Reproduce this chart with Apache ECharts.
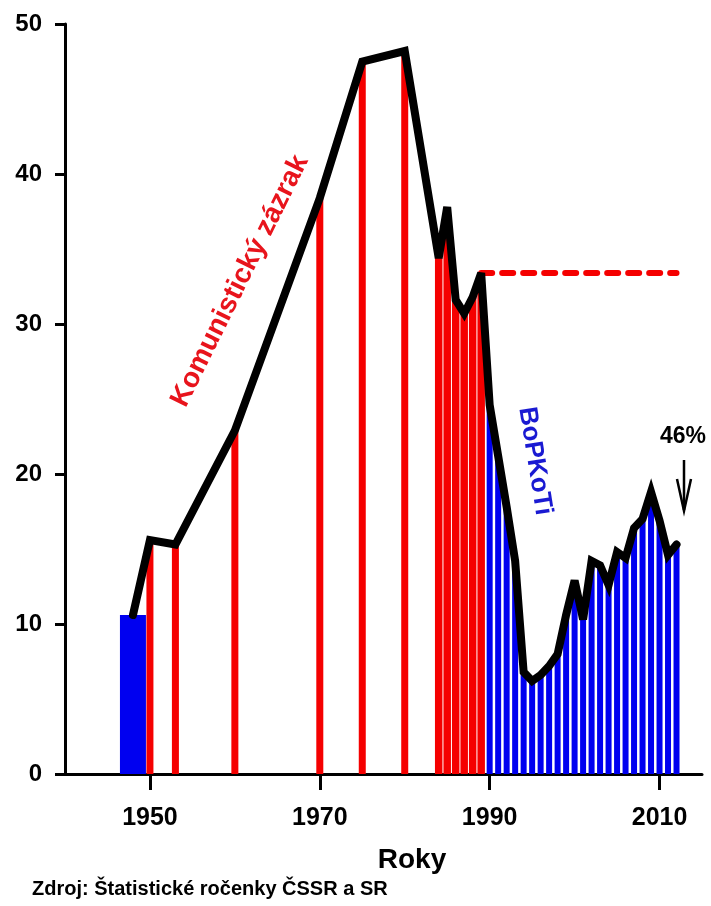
<!DOCTYPE html>
<html>
<head>
<meta charset="utf-8">
<script src="https://cdn.jsdelivr.net/npm/echarts@6/dist/echarts.min.js"></script>
<style>
html,body{margin:0;padding:0;background:#fff;}
#chart{width:711px;height:906px;}
</style>
</head>
<body>
<div id="chart"></div>
<script>
// Data
const years = [1948, 1950, 1953, 1960, 1970, 1975, 1980,
  1984, 1985, 1986, 1987, 1988, 1989,
  1990, 1991, 1992, 1993, 1994, 1995, 1996, 1997, 1998, 1999,
  2000, 2001, 2002, 2003, 2004, 2005, 2006, 2007, 2008, 2009, 2010, 2011, 2012];
const values = [10.6, 15.6, 15.3, 22.9, 38.4, 47.5, 48.2,
  34.4, 37.8, 31.6, 30.7, 31.8, 33.4,
  24.6, 21.2, 17.8, 14.2, 6.8, 6.2, 6.6, 7.2, 8.0, 10.6,
  12.9, 10.3, 14.2, 13.9, 12.6, 14.8, 14.4, 16.4, 17.0, 18.8, 16.9, 14.6, 15.3];
const blueStartYears = [1948];
const redSingleYears = [1950, 1953, 1960, 1970, 1975, 1980];
const redDenseYears = [1984, 1985, 1986, 1987, 1988, 1989];
const blueYears = [1990, 1991, 1992, 1993, 1994, 1995, 1996, 1997, 1998, 1999, 2000, 2001,
  2002, 2003, 2004, 2005, 2006, 2007, 2008, 2009, 2010, 2011, 2012];
const dashYears = [1989, 2012];
const dashValue = 33.4;
const xTickValues = [1950, 1970, 1990, 2010];
const yTickValues = [0, 10, 20, 30, 40, 50];

const pick = ys => ys.map(y => [y, values[years.indexOf(y)]]);
const FONT = 'Liberation Sans';
const RED = '#f50000';
const BLUE = '#0000f0';

const hiddenX = () => ({type: 'value', min: 1940, max: 2015, show: false});

const chart = echarts.init(document.getElementById('chart'), null, {renderer: 'canvas'});
chart.setOption({
  animation: false,
  backgroundColor: '#fff',
  grid: {left: 65, right: 9, top: 24, bottom: 132, containLabel: false},
  xAxis: [
    {
      type: 'value', min: 1940, max: 2015,
      axisLine: {show: true, lineStyle: {color: '#000', width: 3}},
      axisTick: {show: true, customValues: xTickValues, length: 16, lineStyle: {color: '#000', width: 3}},
      axisLabel: {customValues: xTickValues, formatter: v => String(v), margin: 32, color: '#000',
        fontFamily: FONT, fontWeight: 'bold', fontSize: 25},
      splitLine: {show: false}
    },
    hiddenX(), hiddenX(), hiddenX(), hiddenX()
  ],
  yAxis: {
    type: 'value', min: 0, max: 50, interval: 10,
    axisLine: {show: true, lineStyle: {color: '#000', width: 3}},
    axisTick: {show: true, length: 10, lineStyle: {color: '#000', width: 3}},
    axisLabel: {customValues: yTickValues, formatter: v => String(v), margin: 23, color: '#000',
      fontFamily: FONT, fontWeight: 'bold', fontSize: 24},
    splitLine: {show: false}
  },
  series: [
    {type: 'bar', xAxisIndex: 1, data: pick(blueStartYears), barWidth: 26, itemStyle: {color: BLUE}, z: 2},
    {type: 'bar', xAxisIndex: 2, data: pick(redSingleYears), barWidth: 7, itemStyle: {color: RED}, z: 2},
    {type: 'bar', xAxisIndex: 3, data: pick(redDenseYears), barWidth: 7.5, itemStyle: {color: RED}, z: 2},
    {type: 'bar', xAxisIndex: 4, data: pick(blueYears), barWidth: 6, itemStyle: {color: BLUE}, z: 2},
    {type: 'line', xAxisIndex: 0, data: dashYears.map(y => [y, dashValue]), symbol: 'none',
      lineStyle: {color: RED, width: 6, type: [11, 10], cap: 'round'}, z: 3},
    {type: 'line', xAxisIndex: 0, data: years.map((y, i) => [y, values[i]]), symbol: 'none',
      lineStyle: {color: '#000', width: 8, cap: 'round', join: 'miter', miterLimit: 4}, z: 4}
  ],
  graphic: [
    {type: 'text', x: 240, y: 281, rotation: 63.7 * Math.PI / 180,
      style: {text: 'Komunistický zázrak', fill: '#e8141c', font: 'bold 28px ' + FONT, align: 'center', verticalAlign: 'middle'}, z: 10},
    {type: 'text', x: 535, y: 461, rotation: -81 * Math.PI / 180,
      style: {text: 'BoPKoTi', fill: '#1a1ad2', font: 'bold 26px ' + FONT, align: 'center', verticalAlign: 'middle'}, z: 10},
    {type: 'text', x: 683, y: 437,
      style: {text: '46%', fill: '#000', font: 'bold 23px ' + FONT, align: 'center', verticalAlign: 'middle'}, z: 10},
    {type: 'polyline', shape: {points: [[684, 460], [684, 510]]}, style: {stroke: '#000', lineWidth: 2.5}, z: 10},
    {type: 'polyline', shape: {points: [[677, 479], [684, 511], [691, 479]]}, style: {stroke: '#000', lineWidth: 2.5, fill: null}, z: 10},
    {type: 'text', x: 412, y: 860,
      style: {text: 'Roky', fill: '#000', font: 'bold 28px ' + FONT, align: 'center', verticalAlign: 'middle'}, z: 10},
    {type: 'text', x: 32, y: 889,
      style: {text: 'Zdroj: Štatistické ročenky ČSSR a SR', fill: '#000', font: 'bold 20px ' + FONT, align: 'left', verticalAlign: 'middle'}, z: 10}
  ]
});
</script>
</body>
</html>
